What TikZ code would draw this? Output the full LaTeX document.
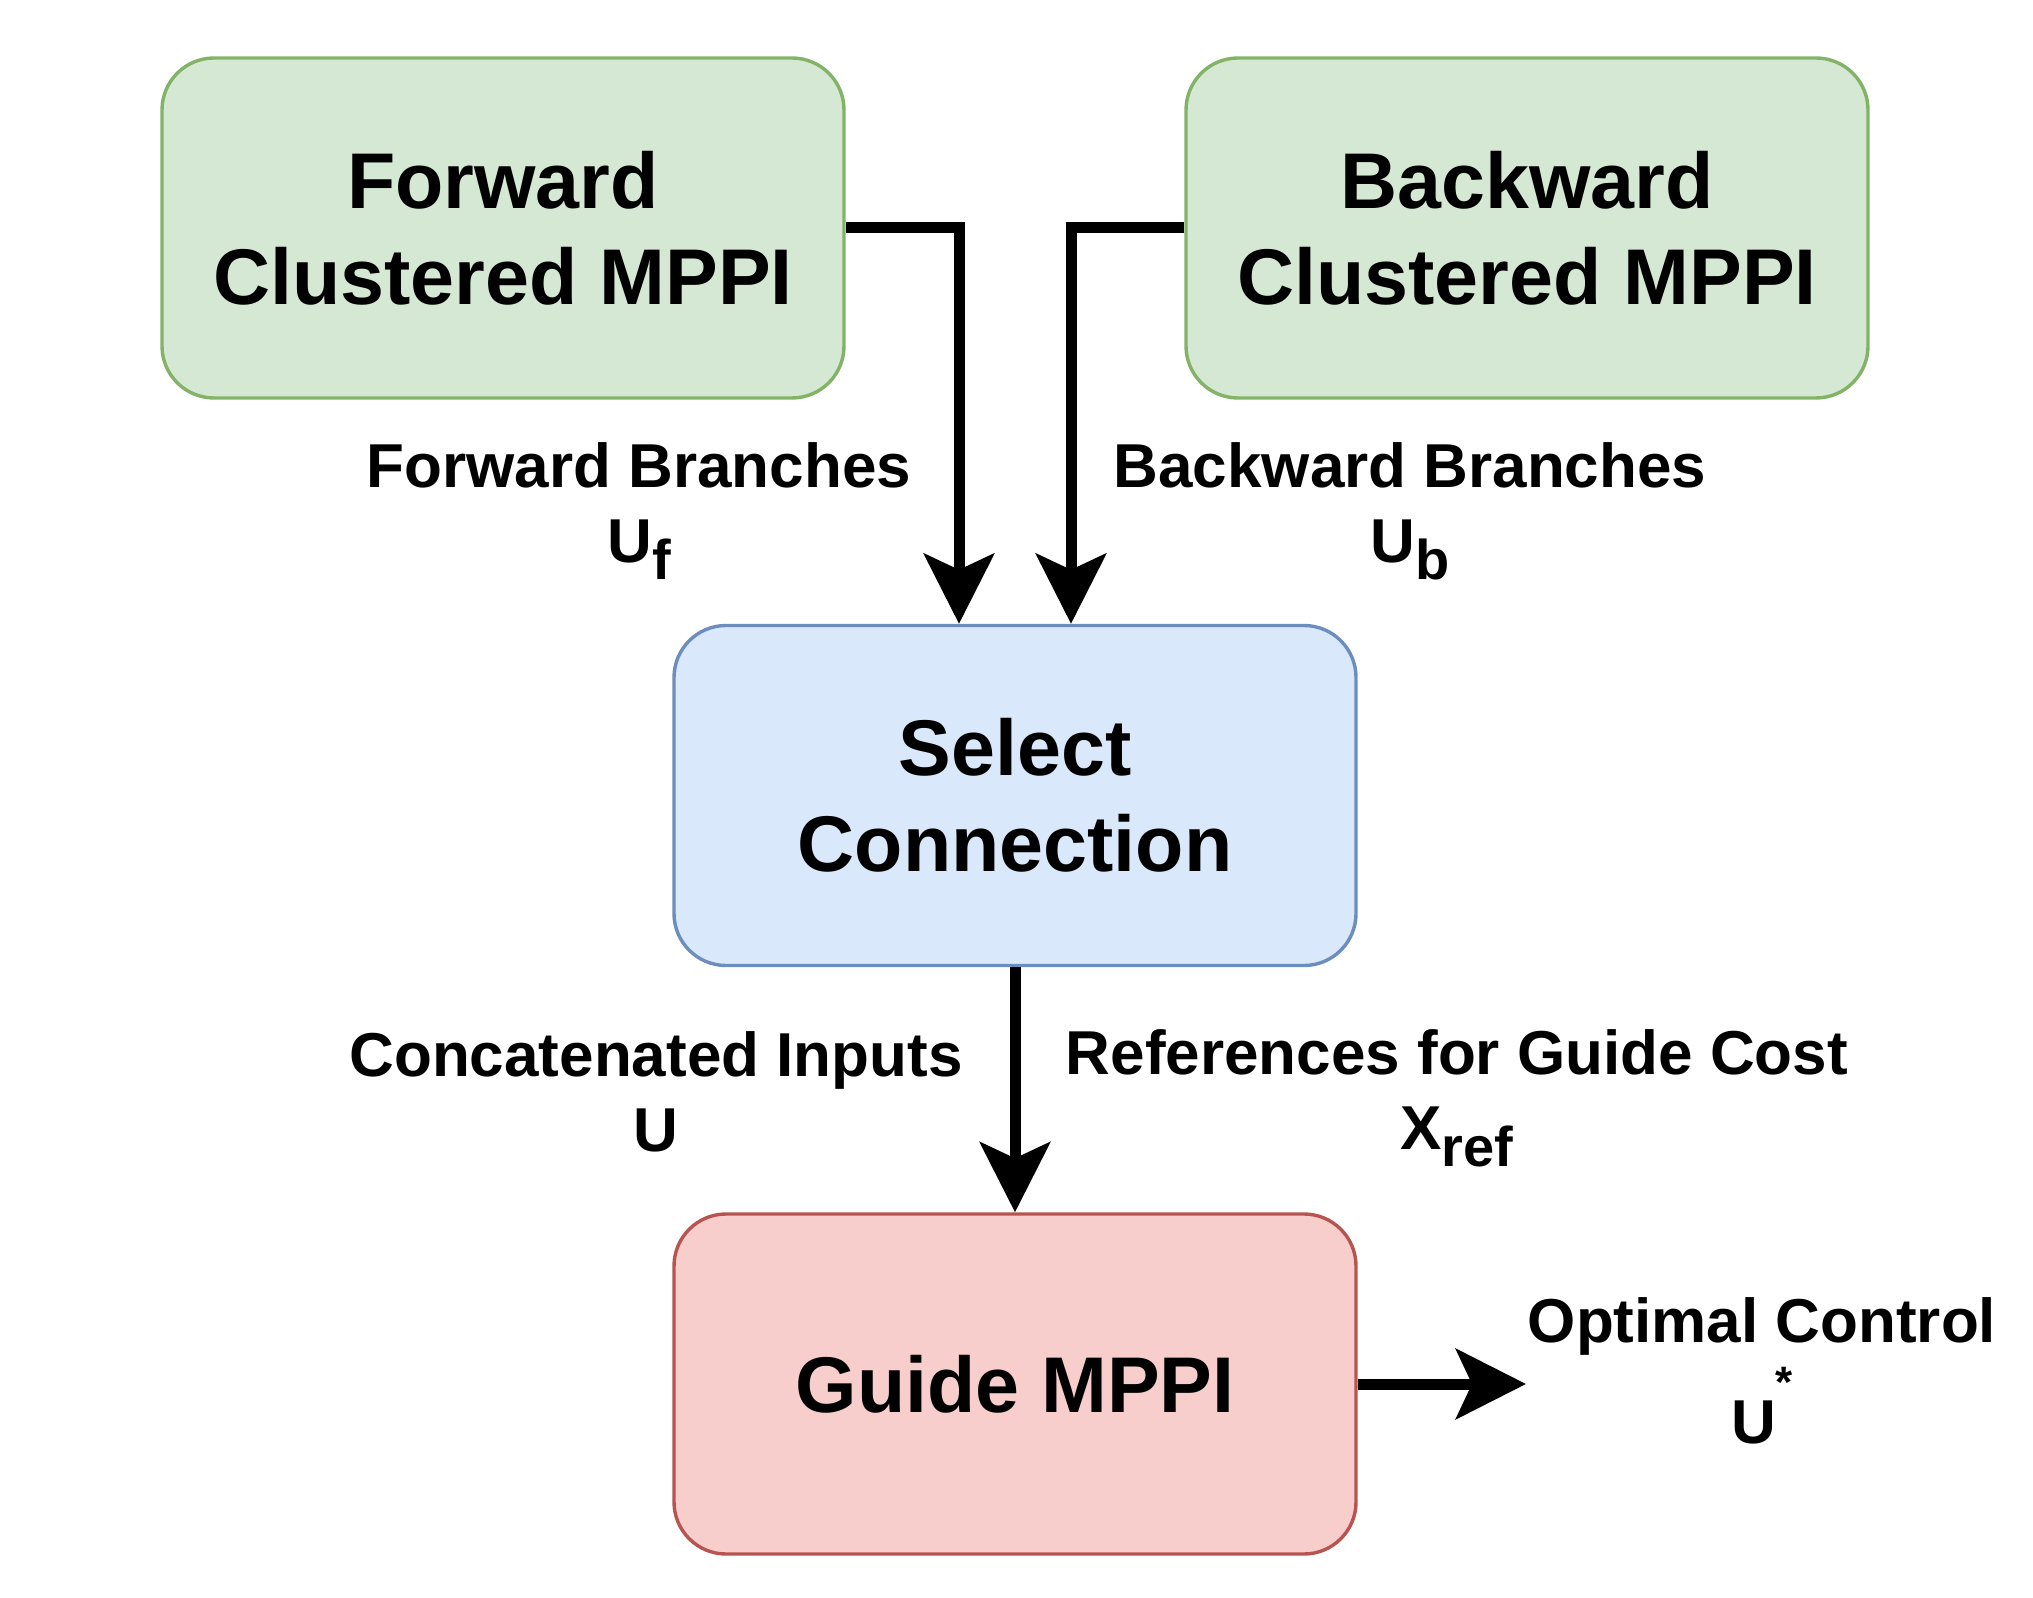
\documentclass[tikz,border=0pt]{standalone}
\usepackage{fontspec}
\setmainfont{Liberation Sans}
\usetikzlibrary{arrows.meta}

\definecolor{grnfill}{HTML}{D5E8D4}
\definecolor{grnline}{HTML}{82B366}
\definecolor{blufill}{HTML}{DAE8FC}
\definecolor{bluline}{HTML}{6C8EBF}
\definecolor{redfill}{HTML}{F8CECC}
\definecolor{redline}{HTML}{B85450}

\newcommand{\subtxt}[1]{\raisebox{-0.28em}{\fontsize{28}{28}\selectfont #1}}
\newcommand{\suptxt}[1]{\raisebox{0.75em}{\fontsize{22}{22}\selectfont #1}}

\begin{document}
\begin{tikzpicture}[x=0.5pt,y=-0.5pt,
    box/.style={draw,line width=1.7pt,rounded corners=26pt,minimum width=341pt,
      minimum height=170pt,align=center,font=\fontsize{39.5}{48}\selectfont\bfseries},
    grnbox/.style={box,fill=grnfill,draw=grnline},
    blubox/.style={box,fill=blufill,draw=bluline},
    redbox/.style={box,fill=redfill,draw=redline},
    lbl/.style={align=center,font=\fontsize{31}{37.5}\selectfont\bfseries},
    arr/.style={line width=5.5pt,-{Stealth[length=35pt,width=35pt,inset=8pt]}}]

    \useasboundingbox (0,0) rectangle (2033,1598);

    \node[grnbox] (fwd) at (503,228) {Forward\\Clustered MPPI};
    \node[grnbox] (bwd) at (1527,228) {Backward\\Clustered MPPI};
    \node[blubox] (sel) at (1015,795.5) {Select\\Connection};
    \node[redbox] (gd) at (1015,1384) {Guide MPPI};
    \coordinate (out) at (1526,1384);

    \draw[arr] (fwd.east) -| ([xshift=-28pt]sel.north);
    \draw[arr] (bwd.west) -| ([xshift=28pt]sel.north);
    \draw[arr] (sel) -- (gd);
    \draw[arr] (gd.east) -- (out);

    \node[lbl] (fl) at (639,511) {Forward Branches\\U\subtxt{f}};
    \node[lbl] (bl) at (1410,511) {Backward Branches\\U\subtxt{b}};
    \node[lbl] (cl) at (656,1092) {Concatenated Inputs\\U};
    \node[lbl] (rl) at (1457,1098) {References for Guide Cost\\X\subtxt{ref}};
    \node[lbl] (ol) at (1762,1371) {Optimal Control\\[5pt]U\suptxt{*}};
\end{tikzpicture}
\end{document}
